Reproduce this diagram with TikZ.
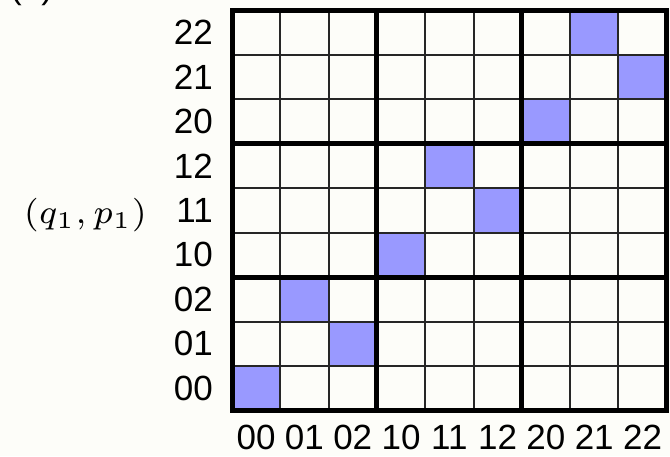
\documentclass[tikz,border=0pt]{standalone}
\usepackage{fontspec}
\setmainfont{Liberation Sans}
\definecolor{bg}{RGB}{253,253,249}
\definecolor{cellblue}{RGB}{153,153,255}
\begin{document}
\begin{tikzpicture}[x=1pt,y=-1pt,
  thinline/.style={line width=2pt,black!85},
  thickline/.style={line width=5pt,black},
  lab/.style={inner sep=0pt,font=\fontsize{35}{40}\selectfont},
  mathlab/.style={inner sep=0pt}]
\clip (0,0) rectangle (670,456);
\fill[bg] (0,0) rectangle (670,456);
\def\xo{232}\def\yo{10.5}\def\cw{48.3}\def\ch{44.44}
% blue cells: column, row-from-bottom
\foreach \c/\r in {0/0,2/1,1/2,3/3,5/4,4/5,6/6,8/7,7/8}{
  \fill[cellblue] ({\xo+\c*\cw},{\yo+(8-\r)*\ch}) rectangle ({\xo+(\c+1)*\cw},{\yo+(9-\r)*\ch});
}
\foreach \i in {1,2,4,5,7,8}{
  \draw[thinline] ({\xo+\i*\cw},\yo) -- ({\xo+\i*\cw},{\yo+9*\ch});
  \draw[thinline] (\xo,{\yo+\i*\ch}) -- ({\xo+9*\cw},{\yo+\i*\ch});
}
\foreach \i in {3,6}{
  \draw[thickline] ({\xo+\i*\cw},\yo) -- ({\xo+\i*\cw},{\yo+9*\ch});
  \draw[thickline] (\xo,{\yo+\i*\ch}) -- ({\xo+9*\cw},{\yo+\i*\ch});
}
\draw[thickline] (\xo,\yo) rectangle ({\xo+9*\cw},{\yo+9*\ch});
% labels
\foreach \t [count=\k from 0] in {00,01,02,10,11,12,20,21,22}{
  \node[lab,anchor=east] (r\t) at (213,{\yo+(8.5-\k)*\ch}) {\t};
  \node[lab] (c\t) at ({\xo+(\k+0.5)*\cw},437) {\t};
}
\node[mathlab,anchor=east] (qp) at (147,215) {\scalebox{4.8}{\scriptsize$(q_1,p_1)$}};
\node[lab,anchor=base west] (tag) at (10,-1.5) {(b)};
\end{tikzpicture}
\end{document}
